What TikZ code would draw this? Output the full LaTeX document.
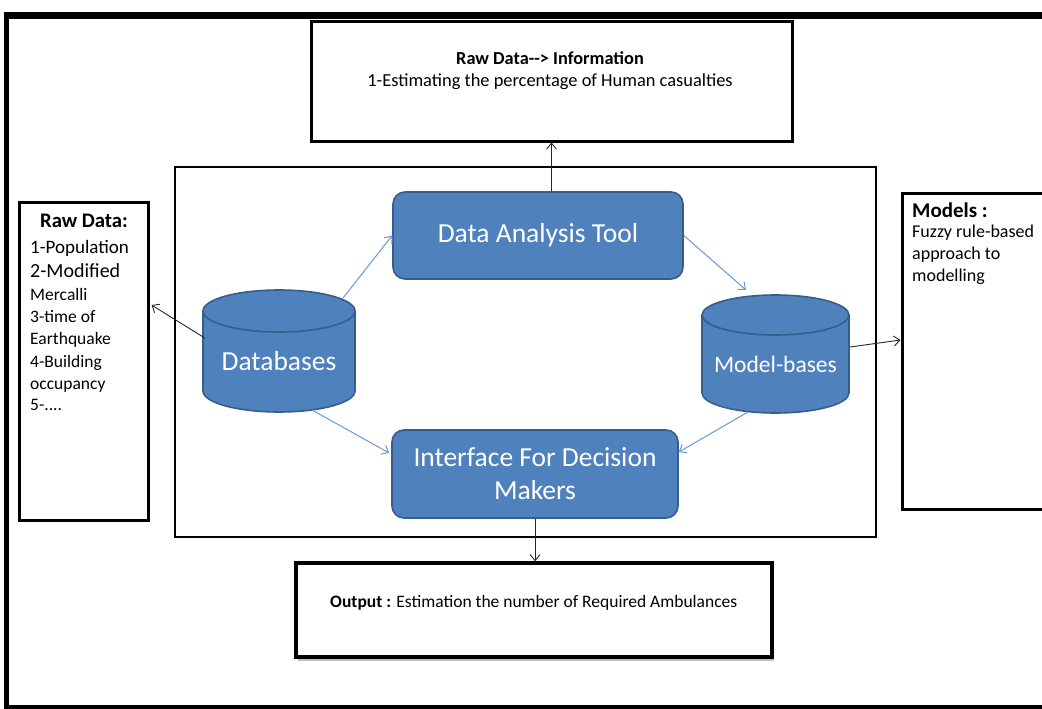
\documentclass[tikz,border=0pt]{standalone}
\usepackage{fontspec}
\setmainfont{Carlito}
\usetikzlibrary{arrows.meta,calc}
\definecolor{dbfill}{HTML}{4F81BD}
\definecolor{dbline}{HTML}{385D8A}
\definecolor{flow}{HTML}{6A9AD6}

% #1 name, #2 cx, #3 cy, #4 half width, #5 half height, #6 cap radius, #7 font size, #8 label
\newcommand\drum[8]{%
  \node[inner sep=0pt, minimum width=2*#4, minimum height=2*#5] (#1) at (#2,#3) {};
  \filldraw[fill=dbfill, draw=dbline, line width=1.6pt] (#2,#3+#5-#6) ellipse [x radius=#4, y radius=#6];
  \fill[dbfill] (#2-#4,#3-#5+#6) rectangle (#2+#4,#3+#5-#6);
  \draw[dbline, line width=1.6pt] (#2-#4,#3-#5+#6) -- (#2-#4,#3+#5-#6)
                                  (#2+#4,#3-#5+#6) -- (#2+#4,#3+#5-#6);
  \filldraw[fill=dbfill, draw=dbline, line width=1.6pt] (#2,#3-#5+#6) ellipse [x radius=#4, y radius=#6];
  \node[text=white, inner sep=0pt, font=\fontsize{#7}{#7}\selectfont] (#1T) at (#2,#3+#6/2) {#8};
}

\begin{document}
\begin{tikzpicture}[x=1pt, y=-1pt,
  box/.style={draw=black, fill=white, inner sep=0pt},
  tool/.style={draw=dbline, fill=dbfill, line width=1.6pt, rounded corners=12pt,
               text=white, align=center, inner sep=0pt,
               font=\fontsize{27.5}{33}\selectfont},
  txt/.style={inner sep=0pt, anchor=base west},
  dark/.style={draw=black!85, line width=0.9pt, -{Straight Barb[length=6pt,width=10pt]}},
  flowarrow/.style={draw=flow, line width=1pt, -{Straight Barb[length=6pt,width=10pt]}},
]
\useasboundingbox (0,0) rectangle (1042,709);
\clip (0,0) rectangle (1042,709);

% outer frame (open on the right)
\draw[line width=7pt] (4,15.5) -- (1050,15.5);
\draw[line width=5pt] (6.5,12) -- (6.5,709);
\draw[line width=4pt] (4,706.5) -- (1050,706.5);

% central system frame
\node[box, line width=2pt, minimum width=701, minimum height=370] (frame) at (525,352) {};

% outer boxes
\node[box, line width=3pt, minimum width=481, minimum height=119] (topbox) at (551.5,81.5) {};
\node[box, line width=3pt, minimum width=129, minimum height=318] (rawbox) at (83.5,361) {};
\node[box, line width=3pt, minimum width=200, minimum height=316] (modelsbox) at (1002,351) {};
\draw[black!25, line width=2.5pt] (298,660) -- (774,660);
\node[box, line width=3.5pt, minimum width=476, minimum height=94] (outbox) at (534,610) {};

% texts of the outer boxes
\node[inner sep=0pt, anchor=base, font=\fontsize{18.3}{21}\selectfont\bfseries] (topT1) at (550,65) {Raw Data-{}-{}> Information};
\node[inner sep=0pt, anchor=base, font=\fontsize{18.4}{21}\selectfont] (topT2) at (550,86) {1-Estimating the percentage of Human casualties};

\node[inner sep=0pt, anchor=base, font=\fontsize{20.7}{24}\selectfont\bfseries] (rawT) at (84,227) {Raw Data:};
\node[txt, font=\fontsize{19}{22}\selectfont] (raw1) at (30,253) {1-Population};
\node[txt, font=\fontsize{20}{22}\selectfont] (raw2) at (30,277) {2-Modified};
\node[txt, font=\fontsize{17.5}{22}\selectfont] (raw3) at (30,300) {Mercalli};
\node[txt, font=\fontsize{17.5}{22}\selectfont] (raw4) at (30,322) {3-time of};
\node[txt, font=\fontsize{17.5}{22}\selectfont] (raw5) at (30,344) {Earthquake};
\node[txt, font=\fontsize{17.5}{22}\selectfont] (raw6) at (30,367) {4-Building};
\node[txt, font=\fontsize{17.5}{22}\selectfont] (raw7) at (30,389) {occupancy};
\node[txt, font=\fontsize{17.5}{22}\selectfont] (raw8) at (30,410) {5-....};

\node[txt, font=\fontsize{21}{22}\selectfont\bfseries] (modT) at (912,217) {Models :};
\node[txt, font=\fontsize{18}{22}\selectfont] (mod1) at (912,237) {Fuzzy rule-based};
\node[txt, font=\fontsize{18}{22}\selectfont] (mod2) at (912,259) {approach to};
\node[txt, font=\fontsize{18}{22}\selectfont] (mod3) at (912,281) {modelling};

\node[txt, font=\fontsize{17.5}{21}\selectfont] (outT) at (330,607) {\textbf{Output :} Estimation the number of Required Ambulances};

% components of the decision support system
\node[tool, minimum width=290, minimum height=87] (dat) at (538,235.5) {Data Analysis Tool};
\node[tool, minimum width=286, minimum height=88] (ifc) at (535,474) {Interface For Decision\\Makers};
\drum{db}{279}{351}{76}{61}{21}{27.5}{Databases}
\drum{mb}{775.5}{354}{73.5}{59}{20}{23.5}{Model-bases}

% connectors
\draw[dark] (dat.north -| topbox.south) -- (topbox.south);
\draw[dark] (ifc.south) -- (ifc.south |- outbox.north);
\draw[dark] ($(db.west)+(2,-13)$) -- ($(rawbox.east)+(2,-56)$);
\draw[dark] ($(mb.east)+(1,-7)$) -- ($(modelsbox.west)+(0,-11)$);

\draw[flowarrow] ($(db)+(64,-53)$) -- (dat.west);
\draw[flowarrow] (dat.east) -- ($(mb)+(-29.5,-64)$);
\draw[flowarrow] ($(db)+(33,59)$) -- ($(ifc.west)+(-2,-21)$);
\draw[flowarrow] ($(mb)+(-27.5,58)$) -- ($(ifc.east)+(0,-22)$);
\end{tikzpicture}
\end{document}
